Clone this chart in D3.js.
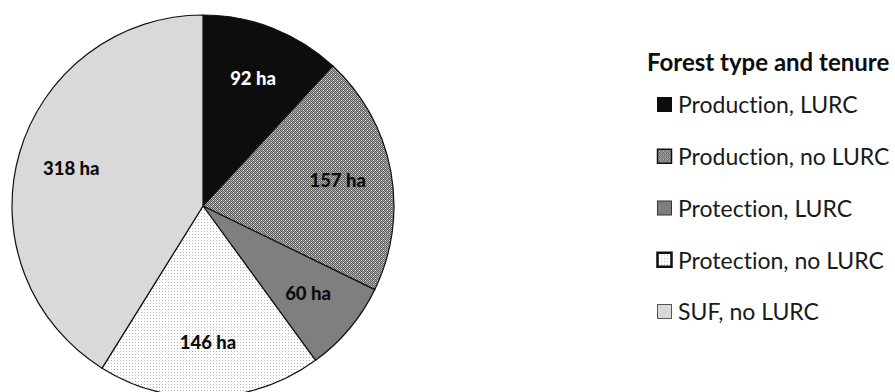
<!DOCTYPE html>
<html>
<head>
<meta charset="utf-8">
<script src="https://cdn.jsdelivr.net/npm/d3@7"></script>
<style>
  body { margin: 0; background: #fff; }
  svg { display: block; }
  text { font-variant-ligatures: none; font-feature-settings: "liga" 0, "clig" 0; }
</style>
</head>
<body>
<div id="vis"></div>
<script>
// forest area by type and tenure, hectares
var categories = ['Production, LURC', 'Production, no LURC', 'Protection, LURC', 'Protection, no LURC', 'SUF, no LURC'];
var areas      = [92, 157, 60, 146, 318];
var labelText  = ['92 ha', '157 ha', '60 ha', '146 ha', '318 ha'];
var legendTitle = 'Forest type and tenure';

var width  = 895;
var height = 392;
var cx = 203, cy = 206, radius = 191;

var svg = d3.select('#vis')
  .append('svg')
  .attr('width', width)
  .attr('height', height);

// patterns for the two textured slices
var defs = svg.append('defs');

var checker = defs.append('pattern')
  .attr('id', 'checker')
  .attr('patternUnits', 'userSpaceOnUse')
  .attr('width', 4).attr('height', 4);
checker.append('rect').attr('width', 4).attr('height', 4).attr('fill', '#a6a6a6');
[[1,0],[3,0],[0,1],[2,1],[1,2],[3,2],[0,3],[2,3]].forEach(function(p){
  checker.append('rect').attr('x', p[0]).attr('y', p[1]).attr('width', 1).attr('height', 1).attr('fill', '#5e5e5e');
});
checker.append('rect').attr('x', 0).attr('y', 0).attr('width', 1).attr('height', 1).attr('fill', '#d8d8d8');
checker.append('rect').attr('x', 2).attr('y', 2).attr('width', 1).attr('height', 1).attr('fill', '#d8d8d8');

var dots = defs.append('pattern')
  .attr('id', 'dots')
  .attr('patternUnits', 'userSpaceOnUse')
  .attr('width', 3).attr('height', 3);
dots.append('rect').attr('width', 3).attr('height', 3).attr('fill', '#fff');
dots.append('rect').attr('x', 1).attr('y', 1).attr('width', 1).attr('height', 1).attr('fill', '#b4b4b4');

var fills   = ['#0d0d0d', 'url(#checker)', '#7f7f7f', 'url(#dots)', '#d9d9d9'];
var strokes = ['#0d0d0d', '#111', '#333', '#111', '#555'];
var swatchStrokeW = [1, 1.5, 1, 2.5, 1];
var labelColors = ['#fff', '#0d0d0d', '#0d0d0d', '#0d0d0d', '#0d0d0d'];

var pie = d3.pie().sort(null).value(function(d){ return d; });
var arcs = pie(areas);

var arc = d3.arc().innerRadius(0).outerRadius(radius);
var labelArc = d3.arc().innerRadius(137).outerRadius(137);

var chartGroup = svg.append('g')
  .attr('transform', 'translate(' + cx + ',' + cy + ')');

chartGroup.selectAll('path.slice')
  .data(arcs)
  .enter().append('path')
  .attr('class', 'slice')
  .attr('d', arc)
  .attr('fill', function(d, i){ return fills[i]; })
  .attr('stroke', '#111')
  .attr('stroke-width', 1.2)
  .attr('stroke-linejoin', 'round');

chartGroup.selectAll('text.lbl')
  .data(arcs)
  .enter().append('text')
  .attr('class', 'lbl')
  .attr('transform', function(d){ return 'translate(' + labelArc.centroid(d) + ')'; })
  .attr('text-anchor', 'middle')
  .attr('dy', '0.35em')
  .style('font-family', 'Lato, "Open Sans", sans-serif')
  .style('font-weight', '900')
  .style('font-size', '18.5px')
  .attr('fill', function(d, i){ return labelColors[i]; })
  .text(function(d, i){ return labelText[i]; });

// legend
var legend = svg.append('g')
  .attr('transform', 'translate(647, 0)');

legend.append('text')
  .attr('x', 0)
  .attr('y', 71)
  .style('font-family', 'Lato, "Open Sans", sans-serif')
  .style('font-weight', 'bold')
  .style('font-size', '24px')
  .attr('fill', '#0d0d0d')
  .text(legendTitle);

var itemY = d3.scalePoint()
  .domain(categories)
  .range([105, 312]);

var items = legend.selectAll('g.item')
  .data(categories)
  .enter().append('g')
  .attr('class', 'item')
  .attr('transform', function(d){ return 'translate(10,' + itemY(d) + ')'; });

items.append('rect')
  .attr('x', 0.5)
  .attr('y', -7.5)
  .attr('width', 14)
  .attr('height', 14)
  .attr('fill', function(d, i){ return fills[i]; })
  .attr('stroke', function(d, i){ return strokes[i]; })
  .attr('stroke-width', function(d, i){ return swatchStrokeW[i]; });

items.append('text')
  .attr('x', 21)
  .attr('dy', '0.36em')
  .style('font-family', 'Lato, "Open Sans", sans-serif')
  .style('font-size', '23px')
  .attr('fill', '#1a1a1a')
  .text(function(d){ return d; });
</script>
</body>
</html>
